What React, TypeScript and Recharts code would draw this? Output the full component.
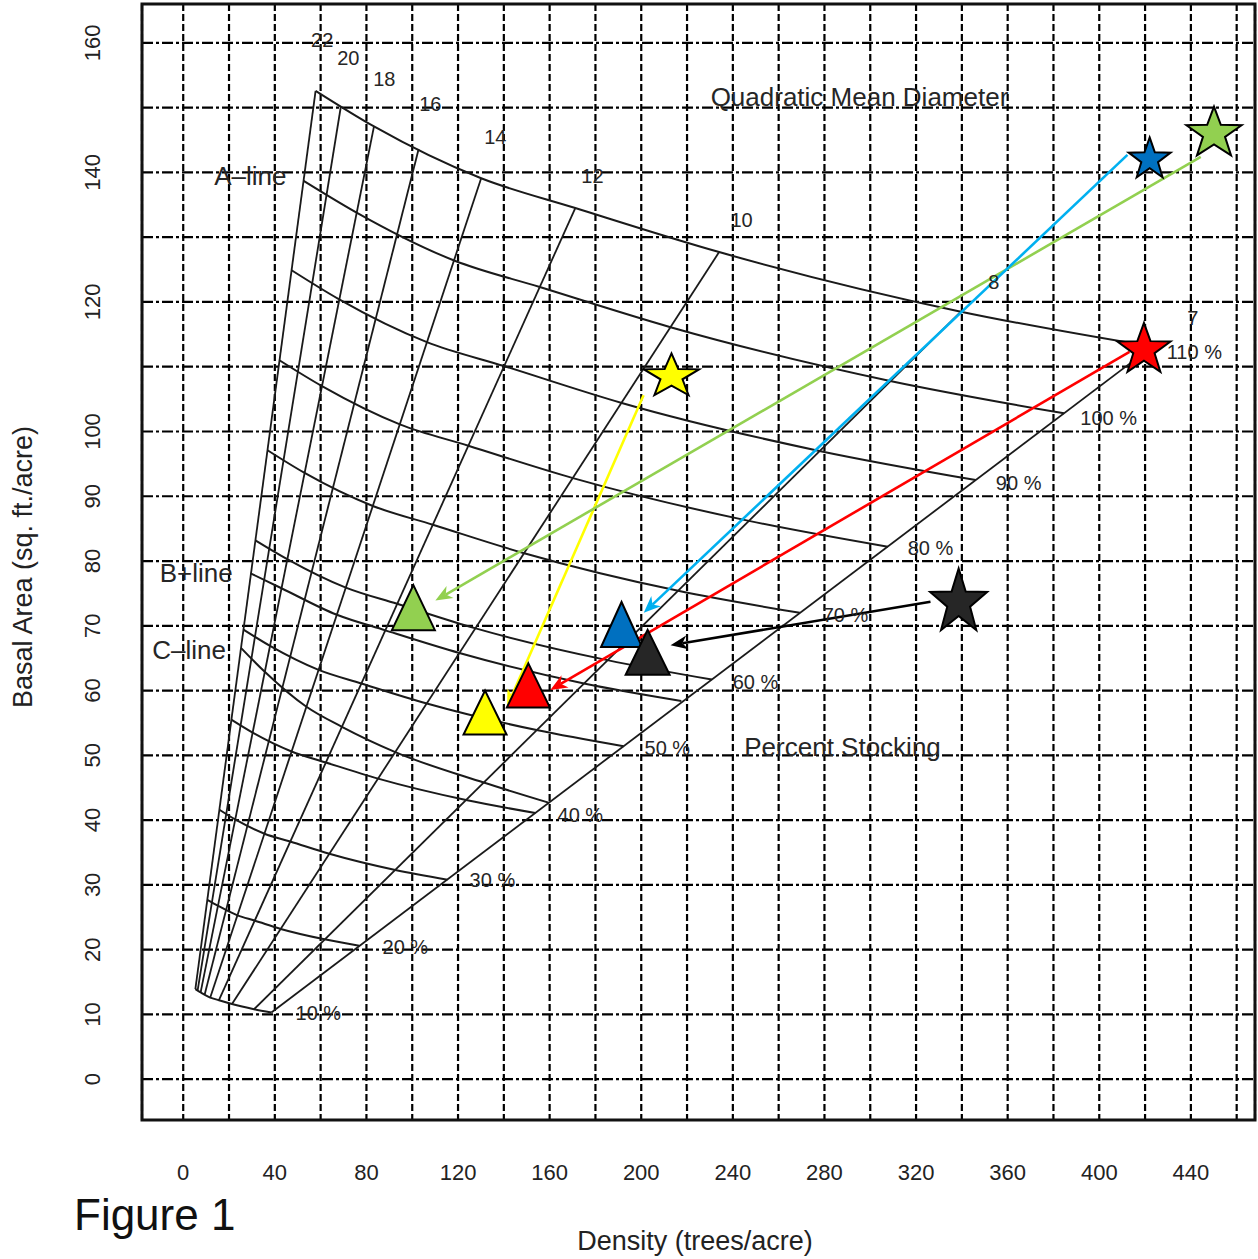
import React from 'react';
import {
  ComposedChart,
  Line,
  Scatter,
  XAxis,
  YAxis,
  CartesianGrid,
  ReferenceLine,
  ReferenceArea,
} from 'recharts';

const FONT = '"Liberation Sans", Arial, Helvetica, sans-serif';

// axes / grid
const xGrid = [0, 20, 40, 60, 80, 100, 120, 140, 160, 180, 200, 220, 240, 260, 280, 300, 320, 340, 360, 380, 400, 420, 440, 460];
const yGrid = [0, 10, 20, 30, 40, 50, 60, 70, 80, 90, 100, 110, 120, 130, 140, 150, 160];
const xTickLabels = [0, 40, 80, 120, 160, 200, 240, 280, 320, 360, 400, 440];
const yTickLabels = [0, 10, 20, 30, 40, 50, 60, 70, 80, 90, 100, 120, 140, 160];

// percent stocking curves, read where they cross the 22, 18, 14, 12, 10, 8 and 7 inch lines
const stock10 = [
  { n: 5.3, ba: 13.9 }, { n: 7.6, ba: 13.4 }, { n: 11.8, ba: 12.6 }, { n: 15.6, ba: 12.2 },
  { n: 21.3, ba: 11.6 }, { n: 30.9, ba: 10.8 }, { n: 38.5, ba: 10.3 },
];
const stock20 = [
  { n: 10.5, ba: 27.7 }, { n: 15.1, ba: 26.8 }, { n: 23.7, ba: 25.3 }, { n: 31.1, ba: 24.5 },
  { n: 42.6, ba: 23.2 }, { n: 61.7, ba: 21.6 }, { n: 76.9, ba: 20.6 },
];
const stock30 = [
  { n: 15.8, ba: 41.6 }, { n: 22.7, ba: 40.1 }, { n: 35.5, ba: 37.9 }, { n: 46.7, ba: 36.7 },
  { n: 63.8, ba: 34.8 }, { n: 92.6, ba: 32.3 }, { n: 115.4, ba: 30.8 },
];
const stock40 = [
  { n: 21.0, ba: 55.5 }, { n: 30.3, ba: 53.5 }, { n: 47.3, ba: 50.6 }, { n: 62.3, ba: 48.9 },
  { n: 85.1, ba: 46.4 }, { n: 123.5, ba: 43.1 }, { n: 153.8, ba: 41.1 },
];
const stock50 = [
  { n: 26.3, ba: 69.4 }, { n: 37.9, ba: 66.9 }, { n: 59.1, ba: 63.2 }, { n: 77.8, ba: 61.1 },
  { n: 106.4, ba: 58.0 }, { n: 154.3, ba: 53.9 }, { n: 192.3, ba: 51.4 },
];
const stock60 = [
  { n: 31.5, ba: 83.2 }, { n: 45.4, ba: 80.3 }, { n: 71.0, ba: 75.9 }, { n: 93.4, ba: 73.4 },
  { n: 127.7, ba: 69.6 }, { n: 185.2, ba: 64.7 }, { n: 230.8, ba: 61.7 },
];
const stock70 = [
  { n: 36.8, ba: 97.1 }, { n: 53.0, ba: 93.6 }, { n: 82.8, ba: 88.5 }, { n: 109.0, ba: 85.6 },
  { n: 148.9, ba: 81.2 }, { n: 216.1, ba: 75.4 }, { n: 269.2, ba: 72.0 },
];
const stock80 = [
  { n: 42.0, ba: 111.0 }, { n: 60.6, ba: 107.0 }, { n: 94.6, ba: 101.1 }, { n: 124.5, ba: 97.8 },
  { n: 170.2, ba: 92.8 }, { n: 247.0, ba: 86.2 }, { n: 307.7, ba: 82.2 },
];
const stock90 = [
  { n: 47.3, ba: 124.9 }, { n: 68.1, ba: 120.4 }, { n: 106.4, ba: 113.8 }, { n: 140.1, ba: 110.1 },
  { n: 191.5, ba: 104.4 }, { n: 277.8, ba: 97.0 }, { n: 346.1, ba: 92.5 },
];
const stock100 = [
  { n: 52.6, ba: 138.7 }, { n: 75.7, ba: 133.8 }, { n: 118.3, ba: 126.4 }, { n: 155.7, ba: 122.3 },
  { n: 212.8, ba: 116.1 }, { n: 308.7, ba: 107.8 }, { n: 384.6, ba: 102.8 },
];
const stock110 = [
  { n: 57.8, ba: 152.6 }, { n: 83.3, ba: 147.1 }, { n: 130.1, ba: 139.1 }, { n: 171.2, ba: 134.5 },
  { n: 234.0, ba: 127.7 }, { n: 339.6, ba: 118.5 }, { n: 423.1, ba: 113.1 },
];
const bLine = [
  { n: 29.4, ba: 78.1 }, { n: 42.9, ba: 75.8 }, { n: 67.1, ba: 71.7 }, { n: 88.3, ba: 69.3 },
  { n: 120.6, ba: 65.8 }, { n: 175.0, ba: 61.1 }, { n: 217.5, ba: 58.4 },
];
const cLine = [
  { n: 25.2, ba: 66.6 }, { n: 35.6, ba: 62.9 }, { n: 53.8, ba: 57.5 }, { n: 69.3, ba: 54.4 },
  { n: 92.6, ba: 50.5 }, { n: 131.2, ba: 45.8 }, { n: 159.5, ba: 42.7 },
];

// quadratic mean diameter lines (10 % end, 110 % end)
const qmd22 = [{ n: 5.3, ba: 13.9 }, { n: 57.8, ba: 152.6 }];
const qmd20 = [{ n: 6.3, ba: 13.7 }, { n: 68.8, ba: 150.1 }];
const qmd18 = [{ n: 7.6, ba: 13.4 }, { n: 83.3, ba: 147.1 }];
const qmd16 = [{ n: 9.4, ba: 13.1 }, { n: 102.8, ba: 143.6 }];
const qmd14 = [{ n: 11.8, ba: 12.6 }, { n: 130.1, ba: 139.1 }];
const qmd12 = [{ n: 15.6, ba: 12.2 }, { n: 171.2, ba: 134.5 }];
const qmd10 = [{ n: 21.3, ba: 11.6 }, { n: 234.0, ba: 127.7 }];
const qmd8 = [{ n: 30.9, ba: 10.8 }, { n: 339.6, ba: 118.5 }];
const qmd7 = [{ n: 38.5, ba: 10.3 }, { n: 423.1, ba: 113.1 }];

const curves = [stock10, stock20, stock30, stock40, stock50, stock60, stock70, stock80, stock90, stock100, stock110, bLine, cLine];
const qmdLines = [qmd22, qmd20, qmd18, qmd16, qmd14, qmd12, qmd10, qmd8, qmd7];

// text on the chart
const qmdLabels = [
  { n: 60.7, ba: 160.5, text: '22' }, { n: 72.1, ba: 157.7, text: '20' }, { n: 87.8, ba: 154.4, text: '18' },
  { n: 107.9, ba: 150.6, text: '16' }, { n: 136.3, ba: 145.5, text: '14' }, { n: 178.7, ba: 139.5, text: '12' },
  { n: 243.8, ba: 132.7, text: '10' }, { n: 353.9, ba: 123.1, text: '8' }, { n: 440.8, ba: 117.5, text: '7' },
];
const pctLabels = [
  { n: 441.5, ba: 112.3, text: '110 %' }, { n: 404.1, ba: 102.1, text: '100 %' }, { n: 364.8, ba: 92.0, text: '90 %' },
  { n: 326.3, ba: 82.0, text: '80 %' }, { n: 289.2, ba: 71.7, text: '70 %' }, { n: 249.9, ba: 61.3, text: '60 %' },
  { n: 211.4, ba: 51.1, text: '50 %' }, { n: 173.4, ba: 40.8, text: '40 %' }, { n: 135.0, ba: 30.7, text: '30 %' },
  { n: 97.0, ba: 20.4, text: '20 %' }, { n: 59.0, ba: 10.2, text: '10 %' },
];
const bigLabels = [
  { n: 295.3, ba: 151.7, text: 'Quadratic Mean Diameter' },
  { n: 287.9, ba: 51.3, text: 'Percent Stocking' },
  { n: 29.3, ba: 139.5, text: 'A\u2013line' },
  { n: 5.7, ba: 78.1, text: 'B+line' },
  { n: 2.6, ba: 66.3, text: 'C\u2013line' },
];

// stand positions
const stars = [
  { id: 'yellow', n: 213.2, ba: 108.5 },
  { id: 'blue', n: 422.0, ba: 142.0 },
  { id: 'green', n: 450.1, ba: 146.0 },
  { id: 'red', n: 419.5, ba: 112.6 },
  { id: 'black', n: 338.6, ba: 73.6 },
];
const triangles = [
  { id: 'green', n: 100.5, ba: 72.8 },
  { id: 'blue', n: 191.4, ba: 70.2 },
  { id: 'black', n: 202.8, ba: 65.9 },
  { id: 'red', n: 150.7, ba: 60.8 },
  { id: 'yellow', n: 131.8, ba: 56.6 },
];
const arrows = [
  { id: 'yellow', from: { n: 201.0, ba: 105.6 }, to: { n: 141.4, ba: 57.5 } },
  { id: 'green', from: { n: 444.3, ba: 142.4 }, to: { n: 110.1, ba: 73.9 } },
  { id: 'blue', from: { n: 412.3, ba: 142.7 }, to: { n: 201.1, ba: 72.0 } },
  { id: 'red', from: { n: 413.2, ba: 112.3 }, to: { n: 160.3, ba: 60.1 } },
  { id: 'black', from: { n: 326.3, ba: 73.7 }, to: { n: 212.8, ba: 67.0 } },
];

const fillColor: Record<string, string> = {
  yellow: '#FFFF00', green: '#92D050', blue: '#0070C0', red: '#FF0000', black: '#262626',
};
const arrowColor: Record<string, string> = {
  yellow: '#FFFF00', green: '#92D050', blue: '#00B0F0', red: '#FF0000', black: '#000000',
};
const starSize: Record<string, [number, number]> = {
  yellow: [29, 23], blue: [22, 22], green: [29, 27], red: [28, 27], black: [30, 34],
};
const triSize: Record<string, [number, number]> = {
  yellow: [43, 44], green: [43, 45], blue: [41, 45], red: [43, 44], black: [44, 45],
};

const starShape = (props: any) => {
  const { cx, cy, payload } = props;
  const [rx, ry] = starSize[payload.id];
  const pts: string[] = [];
  for (let i = 0; i < 10; i++) {
    const a = -Math.PI / 2 + (i * Math.PI) / 5;
    const k = i % 2 === 0 ? 1 : 0.4;
    pts.push(`${cx + Math.cos(a) * rx * k},${cy + Math.sin(a) * ry * k}`);
  }
  return <polygon points={pts.join(' ')} fill={fillColor[payload.id]} stroke="#000" strokeWidth={2} strokeLinejoin="miter" />;
};

const triangleShape = (props: any) => {
  const { cx, cy, payload } = props;
  const [w, h] = triSize[payload.id];
  const pts = `${cx},${cy - h / 2} ${cx + w / 2},${cy + h / 2} ${cx - w / 2},${cy + h / 2}`;
  return <polygon points={pts} fill={fillColor[payload.id]} stroke="#000" strokeWidth={2} />;
};

const textShape = (size: number) => (props: any) => (
  <text
    x={props.cx}
    y={props.cy}
    textAnchor="middle"
    dominantBaseline="central"
    fontFamily={FONT}
    fontSize={size}
    fill="#262626"
  >
    {props.payload.text}
  </text>
);

const arrowShape = (color: string) => (props: any) => {
  const { x1, y1, x2, y2 } = props;
  const dx = x2 - x1;
  const dy = y2 - y1;
  const len = Math.hypot(dx, dy) || 1;
  const ux = dx / len;
  const uy = dy / len;
  const hl = 17;
  const hw = 7;
  const bx = x2 - ux * hl;
  const by = y2 - uy * hl;
  const nx = x2 - ux * (hl - 5);
  const ny = y2 - uy * (hl - 5);
  return (
    <g>
      <line x1={x1} y1={y1} x2={nx} y2={ny} stroke={color} strokeWidth={2.6} />
      <polygon
        points={`${x2},${y2} ${bx - uy * hw},${by + ux * hw} ${nx},${ny} ${bx + uy * hw},${by - ux * hw}`}
        fill={color}
      />
    </g>
  );
};

const XTick = (props: any) => {
  const { x, y, payload } = props;
  if (!xTickLabels.includes(payload.value)) return <g />;
  return (
    <text x={x} y={y} dy="0.71em" textAnchor="middle" fontFamily={FONT} fontSize={22} fill="#222">
      {payload.value}
    </text>
  );
};

const YTick = (props: any) => {
  const { x, y, payload } = props;
  if (!yTickLabels.includes(payload.value)) return <g />;
  return (
    <text
      transform={`translate(${x},${y}) rotate(-90)`}
      textAnchor="middle"
      dominantBaseline="central"
      fontFamily={FONT}
      fontSize={22}
      fill="#222"
    >
      {payload.value}
    </text>
  );
};

const App: React.FC = () => {
  return (
    <div style={{ position: 'absolute', left: 0, top: 0, width: 1258, height: 1259, background: '#fff' }}>
      <ComposedChart width={1258} height={1259} margin={{ top: 4, right: 3, bottom: 79, left: 0 }}>
        <CartesianGrid vertical={false} stroke="#000" strokeWidth={2.2} strokeDasharray="11 3 3 3" />
        <CartesianGrid horizontal={false} stroke="#000" strokeWidth={2.2} strokeDasharray="7 3" />
        <XAxis
          dataKey="n"
          type="number"
          domain={[-18, 468]}
          allowDataOverflow
          ticks={xGrid}
          interval={0}
          tick={<XTick />}
          tickSize={0}
          tickMargin={44}
          axisLine={false}
          tickLine={false}
          height={60}
          label={{
            content: () => (
              <text x={695} y={1241} textAnchor="middle" dominantBaseline="central" fontFamily={FONT} fontSize={27} fill="#222">
                Density (trees/acre)
              </text>
            ),
          }}
        />
        <YAxis
          dataKey="ba"
          type="number"
          domain={[-6.3, 166]}
          allowDataOverflow
          ticks={yGrid}
          interval={0}
          tick={<YTick />}
          tickSize={0}
          tickMargin={50}
          axisLine={false}
          tickLine={false}
          width={142}
          label={{
            content: () => (
              <text
                transform="translate(23,567) rotate(-90)"
                textAnchor="middle"
                dominantBaseline="central"
                fontFamily={FONT}
                fontSize={27}
                fill="#222"
              >
                Basal Area (sq. ft./acre)
              </text>
            ),
          }}
        />
        <ReferenceArea x1={-18} x2={468} y1={-6.3} y2={166} fill="none" fillOpacity={0} stroke="#111" strokeWidth={3} />
        {curves.map((c, i) => (
          <Line
            key={`s${i}`}
            data={c}
            dataKey="ba"
            type="monotone"
            stroke="#1a1a1a"
            strokeWidth={2}
            dot={false}
            activeDot={false}
            isAnimationActive={false}
          />
        ))}
        {qmdLines.map((c, i) => (
          <Line
            key={`q${i}`}
            data={c}
            dataKey="ba"
            type="linear"
            stroke="#1a1a1a"
            strokeWidth={1.8}
            dot={false}
            activeDot={false}
            isAnimationActive={false}
          />
        ))}
        <Scatter data={qmdLabels} dataKey="ba" shape={textShape(20)} isAnimationActive={false} />
        <Scatter data={pctLabels} dataKey="ba" shape={textShape(20)} isAnimationActive={false} />
        <Scatter data={bigLabels} dataKey="ba" shape={textShape(26)} isAnimationActive={false} />
        {arrows.map((a) => (
          <ReferenceLine
            key={`a${a.id}`}
            segment={[
              { x: a.from.n, y: a.from.ba },
              { x: a.to.n, y: a.to.ba },
            ]}
            shape={arrowShape(arrowColor[a.id])}
          />
        ))}
        <Scatter data={triangles} dataKey="ba" shape={triangleShape} isAnimationActive={false} />
        <Scatter data={stars} dataKey="ba" shape={starShape} isAnimationActive={false} />
      </ComposedChart>
      <div
        style={{
          position: 'absolute',
          left: 74,
          top: 1193,
          fontFamily: FONT,
          fontSize: 44,
          color: '#111',
          lineHeight: 1,
        }}
      >
        Figure 1
      </div>
    </div>
  );
};

export default App;
